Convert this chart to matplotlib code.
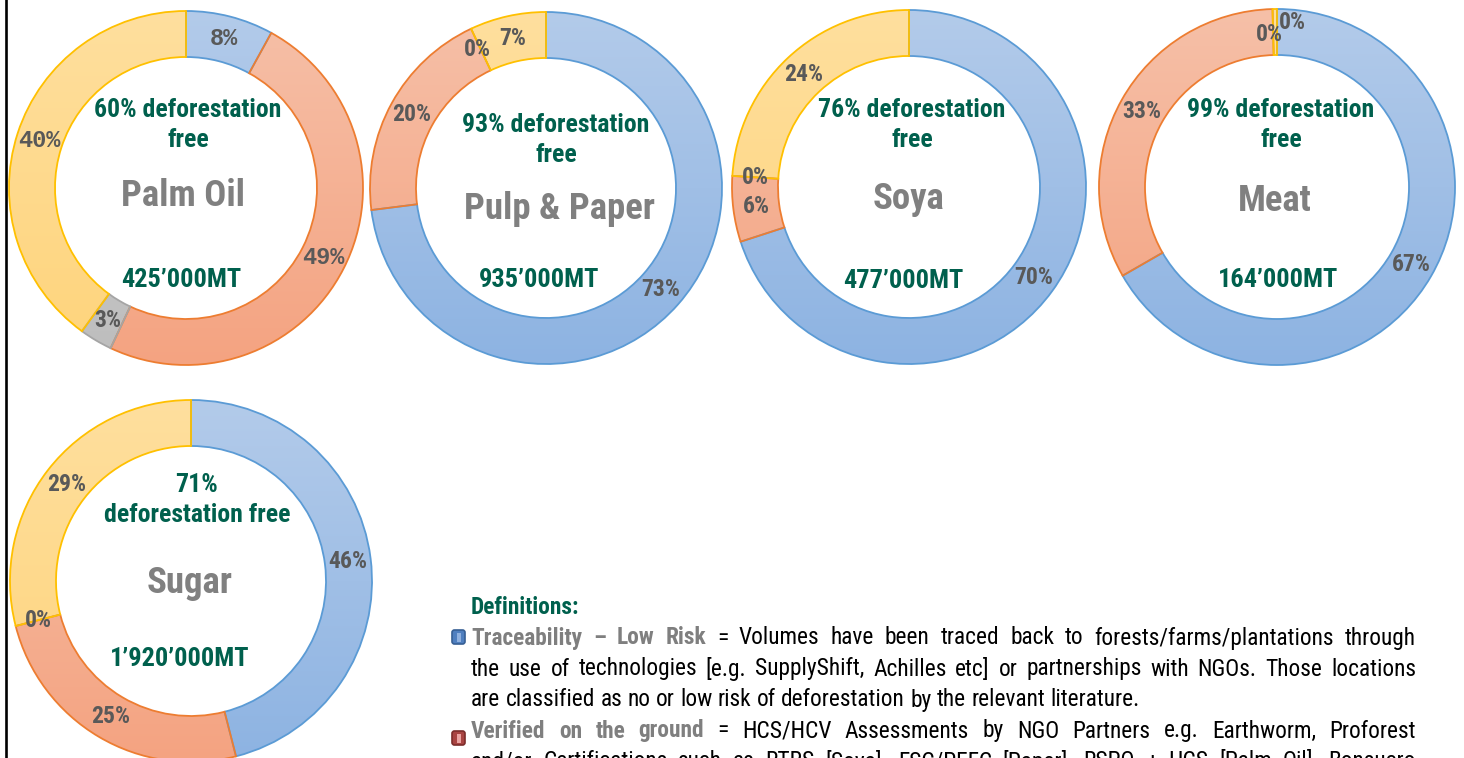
"""
Deforestation-free sourcing by commodity: one donut per commodity with the
volume split into traceability, ground verification, certification and
unverified shares, plus the definitions block underneath.
"""

import numpy as np
import matplotlib
matplotlib.use("Agg")
import matplotlib.pyplot as plt
from matplotlib import font_manager
from matplotlib.colors import to_rgb
from matplotlib.patches import FancyBboxPatch, Rectangle

W, H = 1464, 758

# --- data -----------------------------------------------------------------
commodities = ["Palm Oil", "Pulp & Paper", "Soya", "Meat", "Sugar"]
volumes = ["425’000MT", "935’000MT", "477’000MT", "164’000MT", "1’920’000MT"]
deforestation_free = [60, 93, 76, 99, 71]

# share of each commodity's volume (%), clockwise from 12 o'clock
traceability_low_risk = [8, 73, 70, 66.7, 46]
verified_on_ground = [49, 20, 6, 32.9, 25]
certified = [3, 0, 0, 0, 0]
unverified = [40, 7, 24, 0.4, 29]

# --- styling ----------------------------------------------------------------
names = {f.name for f in font_manager.fontManager.ttflist}
NARROW = next((n for n in ["Liberation Sans Narrow", "Roboto Condensed", "PT Sans Narrow"]
               if n in names), "Liberation Sans")
MONO = "Liberation Mono" if "Liberation Mono" in names else "DejaVu Sans Mono"

GREEN = "#00604d"
GREY_TITLE = "#808080"
LABEL = "#595959"

# (gradient top, gradient bottom, outline) per series
SERIES_STYLE = [
    ("#b3cbea", "#8db3e2", "#5b9bd5"),
    ("#f6c0a8", "#f4a381", "#ed7d31"),
    ("#d2d2d2", "#bdbdbd", "#a5a5a5"),
    ("#ffdf9e", "#fed47b", "#ffc000"),
]

# donut centre / radius and text anchors, in pixels from the top-left corner
LAYOUT = [
    dict(c=(186, 188), r=177, head=(188, 125), name=(183, 196), vol=(181, 280)),
    dict(c=(546, 188), r=176, head=(556, 140), name=(559, 209), vol=(539, 280)),
    dict(c=(909, 187), r=177, head=(912, 125), name=(908, 199), vol=(903, 281)),
    dict(c=(1277, 187), r=178, head=(1281, 125), name=(1275, 201), vol=(1278, 280)),
    dict(c=(191, 581), r=181, head=(197, 500), name=(190, 583), vol=(180, 659)),
]
RING = 46
HEAD_PITCH = 30
# where Excel pushed overlapping labels apart: (chart, series) -> (dx, dy) px
NUDGE = {(3, 2): (-4, 2), (3, 3): (17, -10), (1, 2): (-3, 0)}


def ring_gradient(ax, wedge, top, bottom, cx, cy, r):
    """Fill a wedge with a vertical colour gradient spanning the whole donut."""
    t = np.linspace(0, 1, 256)[:, None]
    c0, c1 = np.array(to_rgb(top)), np.array(to_rgb(bottom))
    img = (c0 + (c1 - c0) * t)[:, None, :]
    im = ax.imshow(img, extent=(cx - r, cx + r, cy - r, cy + r), origin="upper",
                   aspect="auto", interpolation="bilinear", zorder=1)
    im.set_clip_path(wedge)


fig = plt.figure(figsize=(W / 100, H / 100), dpi=100)
ax = fig.add_axes([0, 0, 1, 1])

for i, name in enumerate(commodities):
    lay = LAYOUT[i]
    cx, cy = lay["c"][0], H - lay["c"][1]
    r = lay["r"]
    vals = [traceability_low_risk[i], verified_on_ground[i], certified[i], unverified[i]]
    wedges, _, pcts = ax.pie(
        vals, startangle=90, counterclock=False, center=(cx, cy), radius=r,
        colors=[s[1] for s in SERIES_STYLE], autopct="%.0f%%",
        pctdistance=(r - RING / 2) / r,
        wedgeprops=dict(width=RING, linewidth=1.3),
        textprops=dict(family=NARROW, fontsize=17, fontweight="bold", color=LABEL),
    )
    for k, (w, (top, bottom, edge)) in enumerate(zip(wedges, SERIES_STYLE)):
        ring_gradient(ax, w, top, bottom, cx, cy, r)
        w.set_facecolor("none")
        w.set_edgecolor(edge)
        w.set_zorder(2)
        if vals[k] == 0:
            w.set_linewidth(0.8)
    for k, t in enumerate(pcts):
        t.set_zorder(4)
        if i == 0 and k != 2:
            t.set_family(MONO)
            t.set_fontsize(17)
        if (i, k) in NUDGE:
            dx, dy = NUDGE[(i, k)]
            x, y = t.get_position()
            t.set_position((x + dx, y - dy))

    if name == "Sugar":
        head = [f"{deforestation_free[i]}%", "deforestation free"]
    else:
        head = [f"{deforestation_free[i]}% deforestation", "free"]
    hx, hy = lay["head"]
    for j, line in enumerate(head):
        ax.text(hx, H - (hy + (j - 0.5) * HEAD_PITCH), line, ha="center", va="center",
                family=NARROW, fontsize=18.5, fontweight="bold", color=GREEN, zorder=5)
    ax.text(lay["name"][0], H - lay["name"][1], name, ha="center", va="center",
            family=NARROW, fontsize=26.5, fontweight="bold", color=GREY_TITLE, zorder=5)
    ax.text(lay["vol"][0], H - lay["vol"][1], volumes[i], ha="center", va="center",
            family=NARROW, fontsize=19, fontweight="bold", color=GREEN, zorder=5)

# --- definitions block --------------------------------------------------------
TEXT_LEFT, TEXT_RIGHT = 471, 1416
FS = 16.8
BODY = dict(family=NARROW, fontsize=FS, color="black")
TERM = dict(family=NARROW, fontsize=FS, color="#7f7f7f", fontweight="bold")

ax.text(TEXT_LEFT, H - 607, "Definitions:", ha="left", va="center",
        family=NARROW, fontsize=FS, fontweight="bold", color=GREEN)

lines = [
    (638, [("Traceability – Low Risk", TERM),
           ("= Volumes have been traced back to forests/farms/plantations through", BODY)], True),
    (669, [("the use of technologies [e.g. SupplyShift, Achilles etc] or partnerships with NGOs. Those locations", BODY)], True),
    (700, [("are classified as no or low risk of deforestation by the relevant literature.", BODY)], False),
    (731, [("Verified on the ground", TERM),
           ("= HCS/HCV Assessments by NGO Partners e.g. Earthworm, Proforest", BODY)], True),
    (762, [("and/or Certifications such as RTRS [Soya], FSC/PEFC [Paper], RSPO + HCS [Palm Oil], Bonsucro", BODY)], True),
]

renderer = fig.canvas.get_renderer()
space = FS * 100 / 72 * 0.23
for y, segments, justify in lines:
    words = []
    for text, style in segments:
        for word in text.split():
            words.append(ax.text(0, H - y, word, ha="left", va="center", **style))
    widths = [t.get_window_extent(renderer).width for t in words]
    gap = space
    if justify and len(words) > 1:
        gap = (TEXT_RIGHT - TEXT_LEFT - sum(widths)) / (len(words) - 1)
    x = TEXT_LEFT
    for t, wd in zip(words, widths):
        t.set_x(x)
        x += wd + gap

# legend swatches in front of the two definitions
for y, fill, edge, inner in [(637, "#4f7fbf", "#365f94", "#8fb0de"),
                             (738, "#a94442", "#7c2d2b", "#eaa3a1")]:
    ax.add_patch(FancyBboxPatch((452, H - y - 7), 13, 14,
                                boxstyle="round,pad=0,rounding_size=2.5",
                                facecolor=fill, edgecolor=edge, linewidth=1.2, zorder=3))
    ax.add_patch(Rectangle((456.5, H - y - 4.5), 4, 9, facecolor=inner,
                           edgecolor="none", zorder=4))

# slide frame edge on the left
ax.axvline(6, color="black", linewidth=1.9)

ax.set_xlim(0, W)
ax.set_ylim(0, H)
ax.set_aspect("auto")
ax.axis("off")
fig.savefig("out.png", dpi=100, facecolor="white")
